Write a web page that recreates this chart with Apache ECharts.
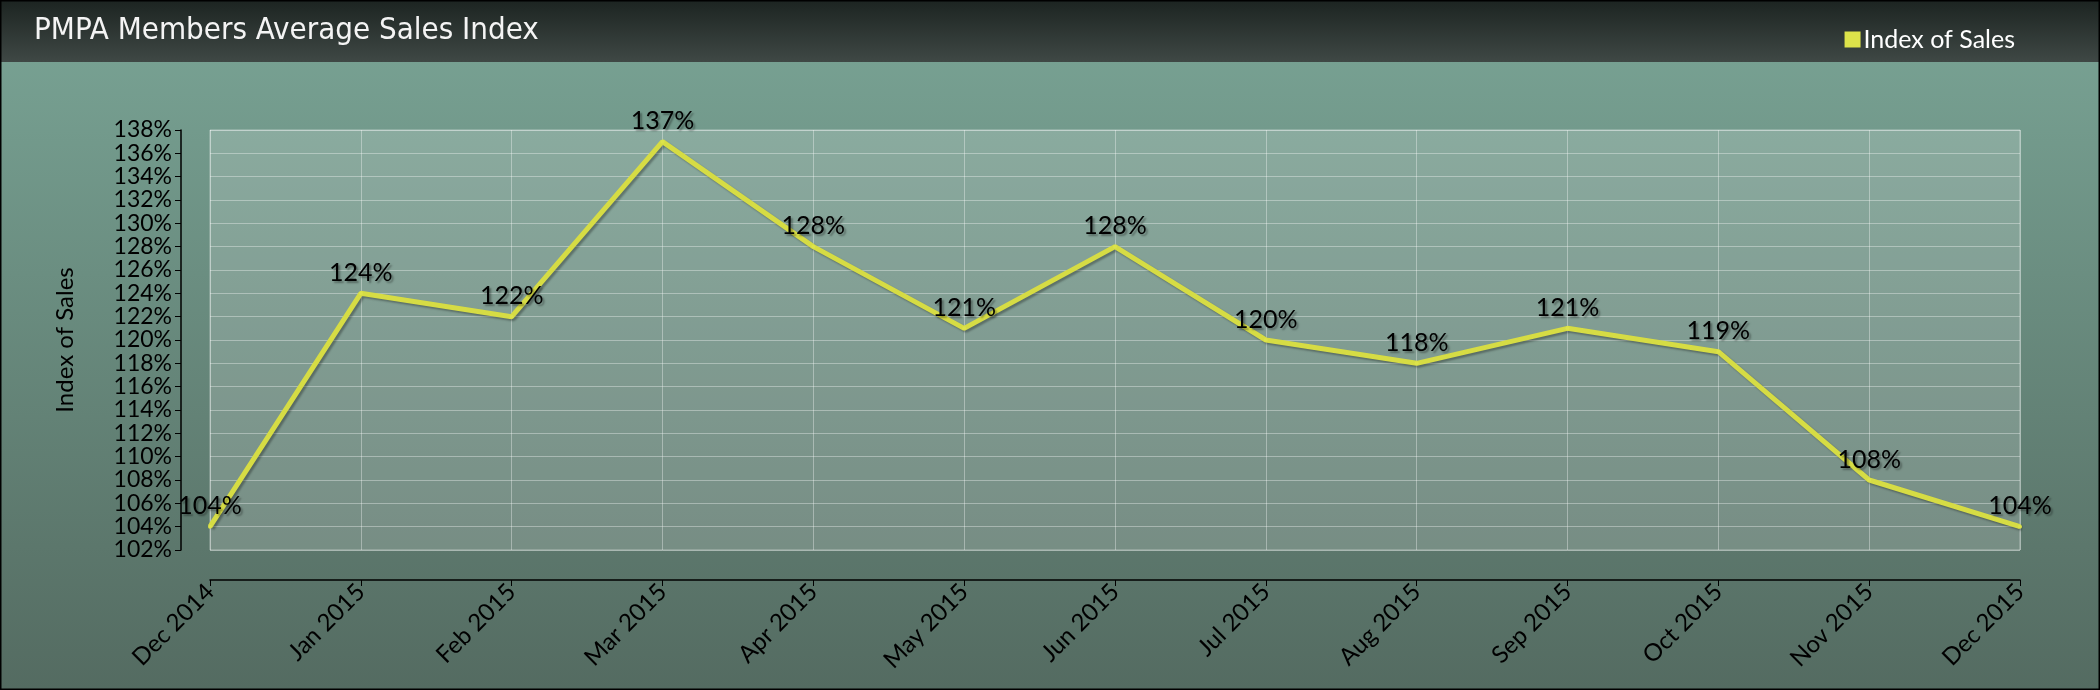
<!DOCTYPE html>
<html>
<head>
<meta charset="utf-8">
<script src="https://cdn.jsdelivr.net/npm/echarts@6/dist/echarts.min.js"></script>
<style>
  html, body { margin: 0; padding: 0; background: #5e7c70; }
  #chart { width: 2100px; height: 690px; }
</style>
</head>
<body>
<div id="chart"></div>
<script>
var months = ['Dec 2014', 'Jan 2015', 'Feb 2015', 'Mar 2015', 'Apr 2015', 'May 2015', 'Jun 2015',
              'Jul 2015', 'Aug 2015', 'Sep 2015', 'Oct 2015', 'Nov 2015', 'Dec 2015'];
var salesIndex = [104, 124, 122, 137, 128, 121, 128, 120, 118, 121, 119, 108, 104];
var yMin = 102, yMax = 138, yStep = 2;

var bodyFont = 'Lato, "Open Sans", sans-serif';

window.onload = function(){
  var myChart = echarts.init(document.getElementById('chart'));

  myChart.setOption({
    animation: false,
    backgroundColor: {
      type: 'linear', x: 0, y: 0, x2: 0, y2: 1,
      colorStops: [
        {offset: 0, color: '#7aa596'},
        {offset: 1, color: '#546b61'}
      ]
    },
    // title bar and outer frame
    graphic: [
      {
        type: 'rect', z: -1, silent: true,
        shape: {x: 0, y: 0, width: 2100, height: 62},
        style: {
          fill: {
            type: 'linear', x: 0, y: 0, x2: 0, y2: 1,
            colorStops: [
              {offset: 0, color: '#1c2421'},
              {offset: 1, color: '#3f4845'}
            ]
          }
        }
      },
      {
        type: 'rect', z: 100, silent: true,
        shape: {x: 0.5, y: 0.5, width: 2099, height: 689},
        style: {fill: 'none', stroke: '#000', lineWidth: 2}
      }
    ],
    title: {
      text: 'PMPA Members Average Sales Index',
      left: 29, top: 10,
      textStyle: {
        color: '#f4f4f4',
        fontFamily: '"Liberation Sans Narrow", "DejaVu Sans Condensed", sans-serif',
        fontWeight: 'normal',
        fontSize: 31
      }
    },
    legend: {
      data: ['Index of Sales'],
      right: 80, top: 22,
      icon: 'rect',
      itemWidth: 16, itemHeight: 16, itemGap: 6,
      textStyle: {color: '#ffffff', fontFamily: bodyFont, fontSize: 25, padding: [0, 0, 0, -2]}
    },
    grid: {
      left: 210, right: 80, top: 130, bottom: 140,
      show: true,
      backgroundColor: 'rgba(255,255,255,0.17)',
      borderColor: 'rgba(255,255,255,0.4)',
      borderWidth: 1
    },
    xAxis: {
      type: 'category',
      data: months,
      boundaryGap: false,
      offset: 30,
      axisLine: {lineStyle: {color: '#000', width: 1.5}},
      axisTick: {show: true, length: 6, lineStyle: {color: '#000'}},
      axisLabel: {
        rotate: 45, margin: 8,
        color: '#000', fontFamily: bodyFont, fontSize: 24
      },
      splitLine: {show: true, lineStyle: {color: 'rgba(255,255,255,0.35)', width: 1}}
    },
    yAxis: {
      type: 'value',
      min: yMin, max: yMax, interval: yStep,
      offset: 29,
      name: 'Index of Sales',
      nameLocation: 'middle',
      nameGap: 104,
      nameTextStyle: {color: '#000', fontFamily: bodyFont, fontSize: 24},
      axisLine: {show: true, lineStyle: {color: '#000', width: 1.5}},
      axisTick: {show: true, length: 6, lineStyle: {color: '#000'}},
      axisLabel: {
        formatter: '{value}%', margin: 9,
        color: '#000', fontFamily: bodyFont, fontSize: 23
      },
      splitLine: {show: true, lineStyle: {color: 'rgba(255,255,255,0.35)', width: 1}}
    },
    series: [{
      name: 'Index of Sales',
      type: 'line',
      data: salesIndex,
      symbol: 'circle',
      symbolSize: 4,
      color: '#ffff22',
      itemStyle: {color: '#dde34a'},
      lineStyle: {
        color: '#d6dc44', width: 5,
        shadowColor: 'rgba(0,0,0,0.3)', shadowBlur: 2, shadowOffsetX: 2, shadowOffsetY: 2
      },
      label: {
        show: true, position: 'top', distance: 6,
        formatter: '{c}%',
        color: '#000', fontFamily: bodyFont, fontSize: 25,
        textShadowColor: 'rgba(0,0,0,0.35)', textShadowBlur: 2,
        textShadowOffsetX: 2, textShadowOffsetY: 2
      }
    }]
  });
};
</script>
</body>
</html>
